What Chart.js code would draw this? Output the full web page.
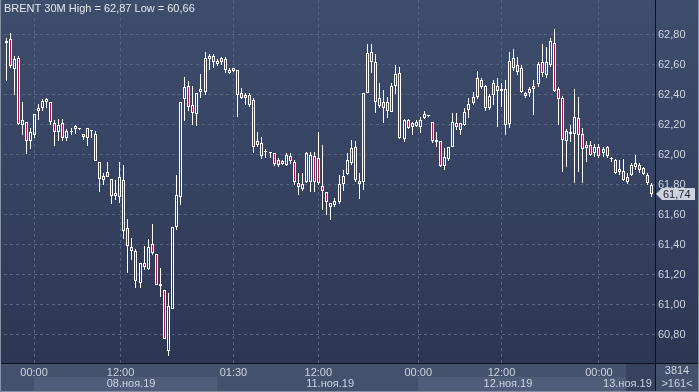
<!DOCTYPE html>
<html>
<head>
<meta charset="utf-8">
<title>BRENT 30M</title>
<script src="https://cdn.jsdelivr.net/npm/chart.js@4.4.1/dist/chart.umd.min.js"></script>
<style>
  html, body { margin: 0; padding: 0; background: #2f3b58; }
  #wrap { width: 699px; height: 392px; }
</style>
</head>
<body>
<div id="wrap"><canvas id="chart" width="699" height="392"></canvas></div>
<script>
// 30 minute candles
const opens = [
  62.745, 62.77, 62.575, 62.647, 62.198, 62.22, 62.09, 62.135, 62.29, 62.31,
  62.35, 62.353, 62.21, 62.15, 62.21, 62.11, 62.15, 62.17, 62.172, 62.14,
  62.11, 62.16, 62.14, 61.953, 61.83, 61.887, 61.84, 61.727, 61.72, 61.833,
  61.51, 61.36, 61.362, 61.147, 61.278, 61.242, 61.407, 61.34, 61.127, 61.10,
  60.69, 60.973, 61.522, 61.722, 62.373, 62.462, 62.33, 62.273, 62.418, 62.422,
  62.638, 62.66, 62.605, 62.622, 62.638, 62.545, 62.56, 62.567, 62.41, 62.378,
  62.40, 62.367, 62.067, 62.082, 62.02, 62.012, 62.015, 61.967, 61.94, 61.933,
  61.993, 61.955, 61.815, 61.771, 61.822, 61.822, 61.993, 61.978, 61.793, 61.755,
  61.652, 61.667, 61.685, 61.809, 61.871, 61.945, 62.055, 61.827, 61.822, 62.411,
  62.685, 62.622, 62.378, 62.315, 62.351, 62.289, 62.462, 62.545, 62.107, 62.233,
  62.189, 62.196, 62.189, 62.249, 62.26, 62.222, 62.10, 62.093, 61.929, 61.973,
  62.055, 62.211, 62.167, 62.20, 62.30, 62.345, 62.389, 62.50, 62.462, 62.315,
  62.40, 62.462, 62.44, 62.44, 62.204, 62.645, 62.60, 62.578, 62.411, 62.411,
  62.44, 62.471, 62.618, 62.533, 62.60, 62.745, 62.44, 62.378, 62.093, 62.138,
  62.14, 62.245, 62.14, 62.047, 62.067, 62.011, 62.051, 62.011, 62.051, 61.978,
  61.967, 61.889, 61.895, 61.822, 61.867, 61.922, 61.933, 61.911, 61.867, 61.80
];
const highs = [
  62.78, 62.81, 62.66, 62.66, 62.35, 62.22, 62.18, 62.27, 62.34, 62.37,
  62.38, 62.355, 62.23, 62.24, 62.24, 62.17, 62.18, 62.20, 62.18, 62.14,
  62.18, 62.167, 62.16, 61.953, 61.88, 61.95, 61.84, 61.833, 61.953, 61.93,
  61.575, 61.447, 61.375, 61.277, 61.39, 61.442, 61.54, 61.34, 61.247, 61.10,
  61.078, 61.522, 61.867, 62.355, 62.518, 62.49, 62.462, 62.41, 62.538, 62.685,
  62.67, 62.67, 62.64, 62.65, 62.65, 62.578, 62.58, 62.567, 62.449, 62.41,
  62.41, 62.38, 62.155, 62.12, 62.04, 62.02, 62.015, 61.98, 61.967, 62.01,
  62.01, 61.967, 61.882, 61.878, 62.02, 62.02, 62.02, 62.155, 62.067, 61.755,
  61.68, 61.71, 61.867, 61.897, 62.011, 62.10, 62.09, 61.878, 62.411, 62.738,
  62.738, 62.671, 62.478, 62.433, 62.389, 62.478, 62.60, 62.589, 62.24, 62.24,
  62.218, 62.233, 62.255, 62.293, 62.265, 62.222, 62.155, 62.093, 62.045, 62.055,
  62.278, 62.278, 62.211, 62.311, 62.378, 62.418, 62.56, 62.515, 62.467, 62.405,
  62.50, 62.511, 62.478, 62.50, 62.689, 62.707, 62.655, 62.60, 62.422, 62.456,
  62.50, 62.618, 62.738, 62.722, 62.778, 62.84, 62.456, 62.39, 62.173, 62.20,
  62.438, 62.389, 62.178, 62.095, 62.095, 62.073, 62.073, 62.051, 62.06, 61.989,
  61.971, 61.967, 61.971, 61.878, 61.945, 62.00, 61.949, 61.922, 61.88, 61.81
];
const lows = [
  62.495, 62.58, 62.40, 62.20, 62.13, 62.007, 62.04, 62.11, 62.23, 62.29,
  62.31, 62.20, 62.06, 62.09, 62.09, 62.09, 62.13, 62.14, 62.165, 62.10,
  62.06, 62.11, 61.96, 61.75, 61.80, 61.85, 61.67, 61.70, 61.68, 61.44,
  61.215, 61.30, 61.11, 61.11, 61.233, 61.233, 61.335, 61.13, 61.055, 60.77,
  60.66, 60.97, 61.50, 61.667, 62.227, 62.293, 62.20, 62.19, 62.378, 62.40,
  62.567, 62.58, 62.593, 62.60, 62.545, 62.538, 62.555, 62.255, 62.37, 62.33,
  62.32, 62.01, 62.055, 61.97, 61.98, 61.98, 61.927, 61.92, 61.93, 61.925,
  61.94, 61.80, 61.733, 61.762, 61.81, 61.755, 61.755, 61.80, 61.633, 61.60,
  61.567, 61.65, 61.675, 61.76, 61.865, 61.935, 61.82, 61.707, 61.767, 62.41,
  62.545, 62.278, 62.31, 62.211, 62.249, 62.285, 62.405, 62.107, 62.089, 62.17,
  62.13, 62.189, 62.145, 62.24, 62.255, 62.08, 62.055, 61.92, 61.90, 61.96,
  62.05, 62.167, 62.133, 62.19, 62.249, 62.333, 62.373, 62.44, 62.293, 62.30,
  62.333, 62.189, 62.322, 62.133, 62.18, 62.56, 62.533, 62.411, 62.378, 62.389,
  62.267, 62.456, 62.522, 62.515, 62.589, 62.42, 62.20, 61.889, 61.92, 62.089,
  61.815, 61.889, 61.811, 61.955, 61.993, 61.989, 61.98, 61.985, 61.98, 61.955,
  61.873, 61.867, 61.829, 61.807, 61.86, 61.90, 61.882, 61.867, 61.80, 61.722
];
const closes = [
  62.762, 62.59, 62.64, 62.207, 62.23, 62.09, 62.153, 62.27, 62.31, 62.36,
  62.37, 62.218, 62.15, 62.20, 62.11, 62.16, 62.152, 62.19, 62.178, 62.12,
  62.18, 62.165, 61.96, 61.84, 61.86, 61.85, 61.727, 61.745, 61.85, 61.495,
  61.393, 61.385, 61.162, 61.277, 61.255, 61.385, 61.345, 61.135, 61.14, 60.775,
  60.99, 61.522, 61.73, 62.355, 62.455, 62.318, 62.278, 62.41, 62.44, 62.645,
  62.66, 62.622, 62.628, 62.645, 62.567, 62.567, 62.578, 62.40, 62.378, 62.40,
  62.333, 62.055, 62.095, 61.993, 62.022, 62.01, 61.94, 61.933, 61.96, 62.00,
  61.962, 61.822, 61.788, 61.807, 62.011, 62.00, 61.822, 61.811, 61.762, 61.689,
  61.678, 61.693, 61.805, 61.862, 61.967, 62.049, 61.833, 61.805, 62.411, 62.678,
  62.618, 62.355, 62.329, 62.355, 62.293, 62.462, 62.538, 62.115, 62.233, 62.178,
  62.211, 62.218, 62.233, 62.271, 62.262, 62.093, 62.085, 61.929, 61.989, 62.055,
  62.218, 62.189, 62.211, 62.289, 62.338, 62.389, 62.515, 62.455, 62.311, 62.395,
  62.478, 62.427, 62.427, 62.20, 62.627, 62.578, 62.555, 62.422, 62.395, 62.44,
  62.462, 62.604, 62.545, 62.618, 62.76, 62.427, 62.373, 62.10, 62.16, 62.155,
  62.255, 62.133, 62.038, 62.067, 62.00, 62.055, 61.993, 62.038, 61.993, 61.972,
  61.882, 61.905, 61.833, 61.851, 61.933, 61.945, 61.90, 61.873, 61.811, 61.74
];

// axis ticks (x positions are candle numbers)
const priceTicks = [60.8, 61.0, 61.2, 61.4, 61.6, 61.8, 62.0, 62.2, 62.4, 62.6, 62.8];
const timeTickPos = [6.9, 28.2, 56, 76.9, 101.5, 122, 146];
const timeTickLabels = ['00:00', '12:00', '01:30', '12:00', '00:00', '12:00', '00:00'];
const dateLabelPos = [30.8, 79.8, 123.6, 153];
const dateLabels = ['08.ноя.19', '11.ноя.19', '12.ноя.19', '13.ноя.19'];
const dayBands = [[6.9, 52], [101.5, 152.7]];
const titleText = 'BRENT 30M High = 62,87 Low = 60,66';

const FONT = '"Liberation Sans", Arial, sans-serif';
const bearFill = '#9e1c45';
const gridColor = '#56647f';
const textColor = '#cdd4e2';

function fmt(v) {
    return v.toFixed(2).replace('.', ',');
}

const bodies = closes.map((c, i) => ({ x: i, y: [Math.min(opens[i], c), Math.max(opens[i], c)] }));
const upperWicks = closes.map((c, i) => ({ x: i, y: [Math.max(opens[i], c), highs[i]] }));
const lowerWicks = closes.map((c, i) => ({ x: i, y: [lows[i], Math.min(opens[i], c)] }));

// snap candles to whole pixels so the thin white lines stay sharp
const pixelSnap = {
    id: 'pixelSnap',
    beforeDatasetsDraw(chart) {
        chart.data.datasets.forEach((ds, di) => {
            chart.getDatasetMeta(di).data.forEach(el => {
                el.x = Math.floor(el.x) + 0.5;
                let top = Math.round(Math.min(el.y, el.base));
                let bot = Math.round(Math.max(el.y, el.base));
                if (di === 0 && bot - top < 1) bot = top + 1;
                el.y = top;
                el.base = bot;
            });
        });
    }
};

const backdrop = {
    id: 'backdrop',
    beforeDraw(chart) {
        const { ctx, chartArea: a, scales: { x } } = chart;
        const W = chart.width, H = chart.height;
        ctx.save();
        const g = ctx.createLinearGradient(0, 0, 0, a.bottom);
        g.addColorStop(0, '#3f4d6d');
        g.addColorStop(1, '#2c3754');
        ctx.fillStyle = g;
        ctx.fillRect(0, 0, W, a.bottom);

        // bottom time strip
        ctx.fillStyle = '#44516d';
        ctx.fillRect(0, a.bottom, W, H - a.bottom);
        ctx.fillStyle = '#505d7a';
        dayBands.forEach(([s, e]) => {
            const x0 = x.getPixelForValue(s), x1 = x.getPixelForValue(e);
            ctx.fillRect(x0, a.bottom + 14, x1 - x0, H - a.bottom - 15);
        });
        const xb = x.getPixelForValue(152.7);
        ctx.fillStyle = '#36425e';
        ctx.fillRect(xb, a.bottom, a.right - xb, H - a.bottom);
        ctx.restore();
    },
    afterDraw(chart) {
        const { ctx, chartArea: a, scales: { x, y } } = chart;
        const W = chart.width, H = chart.height;
        ctx.save();

        // separators
        ctx.strokeStyle = '#0d1119';
        ctx.lineWidth = 1;
        ctx.beginPath();
        ctx.moveTo(a.right + 0.5, 0);
        ctx.lineTo(a.right + 0.5, H);
        ctx.moveTo(0, a.bottom + 0.5);
        ctx.lineTo(W, a.bottom + 0.5);
        ctx.stroke();

        // outer frame (left, bottom, right)
        ctx.strokeStyle = '#8591a6';
        ctx.beginPath();
        ctx.moveTo(0.5, 0);
        ctx.lineTo(0.5, H - 0.5);
        ctx.lineTo(W - 0.5, H - 0.5);
        ctx.lineTo(W - 0.5, 0);
        ctx.stroke();

        ctx.font = '11px ' + FONT;
        ctx.textBaseline = 'middle';

        // title
        ctx.fillStyle = '#e4e8ef';
        ctx.textAlign = 'left';
        ctx.fillText(titleText, 4, 9);

        // dates
        ctx.fillStyle = textColor;
        ctx.textAlign = 'center';
        dateLabels.forEach((d, i) => ctx.fillText(d, x.getPixelForValue(dateLabelPos[i]), a.bottom + 21));

        // corner counters
        ctx.fillText('3814', (a.right + W) / 2, a.bottom + 8);
        ctx.fillText('>161<', (a.right + W) / 2, a.bottom + 21);

        // last price tag
        const last = closes[closes.length - 1];
        const py = Math.round(y.getPixelForValue(last));
        const x0 = a.right + 1;
        ctx.fillStyle = '#cdd2dc';
        ctx.beginPath();
        ctx.moveTo(x0, py);
        ctx.lineTo(x0 + 6, py - 6);
        ctx.lineTo(W - 4, py - 6);
        ctx.lineTo(W - 4, py + 6);
        ctx.lineTo(x0 + 6, py + 6);
        ctx.closePath();
        ctx.fill();
        ctx.fillStyle = '#1b2234';
        ctx.textAlign = 'left';
        ctx.fillText(fmt(last), x0 + 7, py + 0.5);
        ctx.restore();
    }
};

const common = { grouped: false, inflateAmount: 0, borderSkipped: false };

new Chart(document.getElementById('chart'), {
    type: 'bar',
    data: {
        datasets: [
            {
                ...common,
                data: bodies,
                barThickness: 3,
                borderWidth: 1,
                borderColor: '#ffffff',
                minBarLength: 1,
                backgroundColor: c => closes[c.dataIndex] < opens[c.dataIndex] ? bearFill : 'rgba(0,0,0,0)'
            },
            { ...common, data: upperWicks, barThickness: 1, borderWidth: 0, backgroundColor: '#ffffff' },
            { ...common, data: lowerWicks, barThickness: 1, borderWidth: 0, backgroundColor: '#ffffff' }
        ]
    },
    options: {
        responsive: false,
        animation: false,
        layout: { padding: { left: 4, top: 0, right: 0, bottom: 0 } },
        plugins: { legend: { display: false }, tooltip: { enabled: false } },
        scales: {
            x: {
                type: 'linear',
                position: 'bottom',
                min: -0.5,
                max: 159.8,
                offset: false,
                afterBuildTicks: s => { s.ticks = timeTickPos.map(v => ({ value: v })); },
                afterFit: s => { s.height = 29; s.paddingLeft = 0; s.paddingRight = 0; },
                grid: { color: gridColor, lineWidth: 1, drawTicks: false, offset: false },
                border: { display: false, dash: [3, 3] },
                ticks: {
                    autoSkip: false,
                    maxRotation: 0,
                    padding: 3,
                    color: textColor,
                    font: { family: FONT, size: 11 },
                    callback: (v, i) => timeTickLabels[i]
                }
            },
            y: {
                position: 'right',
                min: 60.613,
                max: 63.033,
                beginAtZero: false,
                afterBuildTicks: s => { s.ticks = priceTicks.map(v => ({ value: v })); },
                afterFit: s => { s.width = 44; s.paddingTop = 0; s.paddingBottom = 0; },
                grid: { color: gridColor, lineWidth: 1, drawTicks: false },
                border: { display: false, dash: [3, 3] },
                ticks: {
                    padding: 3,
                    color: textColor,
                    font: { family: FONT, size: 11 },
                    callback: v => fmt(v)
                }
            }
        }
    },
    plugins: [backdrop, pixelSnap]
});
</script>
</body>
</html>
